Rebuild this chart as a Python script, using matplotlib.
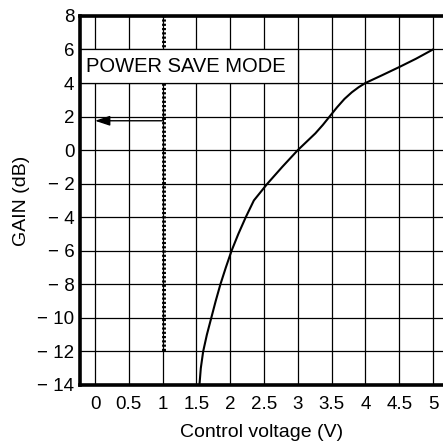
import matplotlib
matplotlib.use('Agg')
import matplotlib.pyplot as plt
from matplotlib.patches import Rectangle

plt.rcParams['font.family'] = ['Liberation Sans', 'DejaVu Sans']

# Gain curve
VOLTAGE = [1.545, 1.565, 1.60, 1.655, 1.72, 1.785, 1.855, 1.935, 2.02, 2.12, 2.23, 2.35,
           2.45, 2.55, 2.66, 2.77, 2.885, 3.0, 3.13, 3.26, 3.37, 3.47, 3.58, 3.69,
           3.8, 3.9, 4.0, 4.25, 4.5, 4.75, 5.0]
GAIN = [-14, -13, -12, -11, -10, -9, -8, -7, -6, -5, -4, -3,
        -2.5, -2.0, -1.5, -1.0, -0.5, 0.0, 0.5, 1.0, 1.5, 2.0, 2.55, 3.05,
        3.45, 3.75, 4.0, 4.47, 4.95, 5.45, 6.0]

X_TICKS = [0, 0.5, 1, 1.5, 2, 2.5, 3, 3.5, 4, 4.5, 5]
X_LABELS = ['0', '0.5', '1', '1.5', '2', '2.5', '3', '3.5', '4', '4.5', '5']
Y_TICKS = [8, 6, 4, 2, 0, -2, -4, -6, -8, -10, -12, -14]
Y_LABELS = ['8', '6', '4', '2', '0', '\u2212 2', '\u2212 4', '\u2212 6', '\u2212 8',
            '\u2212 10', '\u2212 12', '\u2212 14']

# Power save mode marker
SAVE_V = 1.0
SAVE_LOW = -12
SAVE_GAIN = 1.75
SAVE_LABEL = 'POWER SAVE MODE'

fig = plt.figure(figsize=(4.43, 4.42), dpi=100)
ax = fig.add_axes([0.1806, 0.129, 0.8194, 0.835])

ax.set_xlim(-0.222, 5.148)
ax.set_ylim(-14, 8)
ax.set_xticks(X_TICKS)
ax.set_xticklabels(X_LABELS)
ax.set_yticks(Y_TICKS)
ax.set_yticklabels(Y_LABELS)
ax.tick_params(length=0, labelsize=13.5)
ax.tick_params(axis='x', pad=8)
ax.tick_params(axis='y', pad=4)

ax.set_axisbelow(True)
ax.grid(True, color='black', lw=0.9)

for s in ['top', 'left', 'bottom']:
    ax.spines[s].set_linewidth(2.6)
ax.spines['right'].set_visible(False)

# dotted power save line
ax.plot([SAVE_V + 0.02, SAVE_V + 0.02], [SAVE_LOW, 8], color='black', lw=2.8,
        linestyle=(0, (0.55, 0.55)), zorder=1, clip_on=False)

# label box
ax.add_patch(Rectangle((-0.222, 4), 3.0 + 0.222, 2, facecolor='white',
                       edgecolor='black', lw=0.9, zorder=1.5))
ax.text(-0.13, 5, SAVE_LABEL, fontsize=14.5, va='center', ha='left', zorder=3)

# arrow
ax.annotate('', xy=(0, SAVE_GAIN), xytext=(SAVE_V, SAVE_GAIN),
            arrowprops=dict(arrowstyle='-|>,head_length=0.9,head_width=0.3',
                            color='black', lw=1, shrinkA=0, shrinkB=0), zorder=3)

ax.plot(VOLTAGE, GAIN, color='black', lw=1.5, zorder=2)

ax.set_xlabel('Control voltage (V)', fontsize=14)
ax.set_ylabel('GAIN (dB)', fontsize=14)
ax.xaxis.set_label_coords(0.5, -0.105)
ax.yaxis.set_label_coords(-0.138, 0.5)

fig.savefig('out.png', dpi=100)
